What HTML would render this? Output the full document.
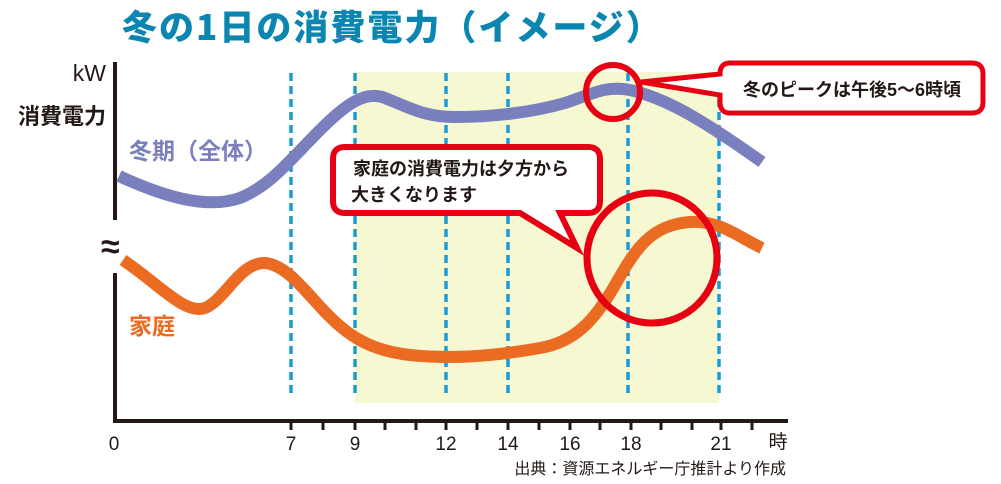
<!DOCTYPE html>
<html><head><meta charset="utf-8"><style>
html,body{margin:0;padding:0;background:#fff;}
svg{display:block;}
text{font-family:"Liberation Sans","Noto Sans CJK JP",sans-serif;}
</style></head><body>
<svg width="1001" height="484" viewBox="0 0 1001 484" xmlns="http://www.w3.org/2000/svg">
<text x="122" y="40" font-size="35" font-weight="900" fill="#0a86b0" letter-spacing="2" style="font-family:'Noto Sans CJK JP',sans-serif;font-weight:900">冬の1日の消費電力（イメージ）</text>
<rect x="355" y="72" width="364" height="331" fill="#f5f8d0"/>
<g stroke="#1a9ad6" stroke-width="3.5" stroke-dasharray="8,5">
<line x1="291" y1="73" x2="291" y2="398"/>
<line x1="355" y1="73" x2="355" y2="398"/>
<line x1="446" y1="73" x2="446" y2="398"/>
<line x1="508" y1="73" x2="508" y2="398"/>
<line x1="628" y1="73" x2="628" y2="398"/>
<line x1="719" y1="73" x2="719" y2="398"/>
</g>
<g stroke="#231815" stroke-width="4" fill="none">
<line x1="115" y1="62" x2="115" y2="220"/>
<line x1="115" y1="273" x2="115" y2="423"/>
<line x1="113" y1="421" x2="788" y2="421"/>
</g>
<g stroke="#231815" stroke-width="3">
<line x1="291" y1="421" x2="291" y2="430"/><line x1="323" y1="421" x2="323" y2="430"/>
<line x1="355" y1="421" x2="355" y2="430"/><line x1="385" y1="421" x2="385" y2="430"/>
<line x1="416" y1="421" x2="416" y2="430"/><line x1="446" y1="421" x2="446" y2="430"/>
<line x1="477" y1="421" x2="477" y2="430"/><line x1="508" y1="421" x2="508" y2="430"/>
<line x1="539" y1="421" x2="539" y2="430"/><line x1="570" y1="421" x2="570" y2="430"/>
<line x1="600" y1="421" x2="600" y2="430"/><line x1="631" y1="421" x2="631" y2="430"/>
<line x1="661" y1="421" x2="661" y2="430"/><line x1="692" y1="421" x2="692" y2="430"/>
<line x1="721" y1="421" x2="721" y2="430"/><line x1="752" y1="421" x2="752" y2="430"/>
</g>
<g font-size="19" fill="#231815" text-anchor="middle">
<text x="114" y="450">0</text><text x="291" y="450">7</text><text x="355" y="450">9</text>
<text x="446" y="450">12</text><text x="508" y="450">14</text><text x="570" y="450">16</text>
<text x="631" y="450">18</text><text x="721" y="450">21</text><text x="778" y="448">時</text>
</g>
<text x="786" y="474" font-size="16" fill="#231815" text-anchor="end">出典：資源エネルギー庁推計より作成</text>
<text x="106" y="81" font-size="23" fill="#231815" text-anchor="end">kW</text>
<text x="106" y="124" font-size="22" font-weight="bold" fill="#231815" text-anchor="end">消費電力</text>
<text x="101" y="258" font-size="34" font-weight="bold" fill="#231815">≈</text>
<text x="129" y="159" font-size="23" font-weight="bold" fill="#7a7fbd">冬期（全体）</text>
<text x="129" y="334" font-size="23" font-weight="bold" fill="#ec6b23">家庭</text>
<path d="M119,176 C160,195 205,210 240,198 C270,186 290,160 320,130 C345,105 365,90 385,98 C410,108 425,117 455,117 C490,117 530,113 565,103 C590,95 605,85 630,90 C665,98 700,118 762,162" fill="none" stroke="#7a7fbd" stroke-width="12"/>
<path d="M123,260 C160,285 185,315 205,308 C225,300 240,262 265,263 C285,265 300,285 325,312 C345,332 365,350 410,355 C450,359 490,357 540,348 C575,342 595,320 615,285 C635,250 650,225 690,222 C720,220 740,238 762,248" fill="none" stroke="#ec6b23" stroke-width="12"/>
<circle cx="613" cy="92" r="27" fill="none" stroke="#e60012" stroke-width="6"/>
<circle cx="652" cy="258" r="65" fill="none" stroke="#e60012" stroke-width="7"/>
<path d="M730,63 H972 Q983,63 983,74 V102 Q983,113 972,113 H730 Q720,113 720,102 V95 L641,82 L720,74 Q720,63 730,63 Z" fill="#fff" stroke="#e60012" stroke-width="5"/>
<text x="852" y="96" font-size="18" font-weight="bold" fill="#231815" text-anchor="middle">冬のピークは午後5〜6時頃</text>
<path d="M345,147 H588 Q600,147 600,159 V201 Q600,213 588,213 H560 L577,248 L520,213 H345 Q333,213 333,201 V159 Q333,147 345,147 Z" fill="#fff" stroke="#e60012" stroke-width="6"/>
<text x="353" y="175" font-size="18" font-weight="bold" fill="#231815">家庭の消費電力は夕方から</text>
<text x="351" y="201" font-size="18" font-weight="bold" fill="#231815">大きくなります</text>
</svg>
</body></html>
